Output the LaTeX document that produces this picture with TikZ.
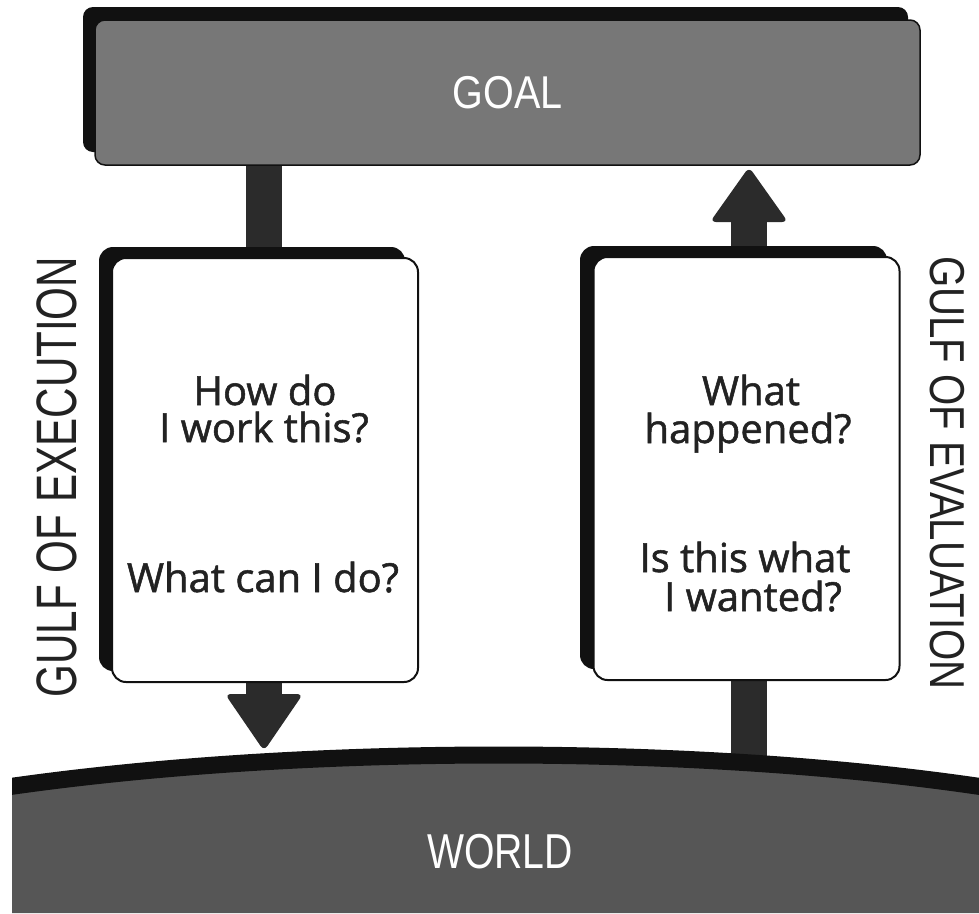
\documentclass[tikz,border=0pt]{standalone}
\usepackage{fontspec}
\setmainfont{Open Sans}
\newfontfamily\qfont{Open Sans}[FakeBold=1.3]
\newfontfamily\capsfont{Liberation Sans}
\usetikzlibrary{calc}
\definecolor{goalgray}{HTML}{777777}
\definecolor{worldgray}{HTML}{565656}
\definecolor{shaftc}{HTML}{2B2B2B}
\definecolor{inkc}{HTML}{222222}
\definecolor{shadowc}{HTML}{111111}
\begin{document}
\begin{tikzpicture}[x=1pt,y=-1pt,
  goalbox/.style={draw=shadowc, line width=1.5pt, fill=goalgray, rounded corners=10pt,
    minimum width=825pt, minimum height=145pt, inner sep=0pt, text=white},
  shadowfill/.style={fill=shadowc},
  qbox/.style={draw=shadowc, line width=2pt, fill=white, rounded corners=14pt,
    minimum width=306pt, minimum height=424pt, inner sep=0pt},
  qtext/.style={text=inkc, font=\qfont\fontsize{40}{40}\selectfont, anchor=base, inner sep=0pt},
  shaft/.style={draw=shaftc, line width=36pt},
  head/.style={fill=shaftc, rounded corners=6pt},
  bigcap/.style={text=white, inner sep=0pt},
  gulf/.style={text=inkc, inner sep=0pt}
]
\useasboundingbox (0,0) rectangle (979,913);
\fill[white] (0,0) rectangle (979,913);

% goal
\fill[shadowfill, rounded corners=10pt] (83,7) rectangle (908,152);
\node[goalbox] (goal) at (507.5,92.5)
  {\capsfont\fontsize{46}{46}\selectfont\scalebox{0.86}[1]{GOAL}};

% arrows
\coordinate (ltip) at (264,751);
\coordinate (rtip) at (749,167);
\coordinate (rbase) at (749,772);
\draw[shaft] (goal.south -| ltip) -- ($(ltip)+(0,-50)$);
\fill[head] (ltip) -- ++(-39,-57) -- ++(78,0) -- cycle;
\draw[shaft] (rbase) -- ($(rtip)+(0,48)$);
\fill[head] (rtip) -- ++(-39,55) -- ++(78,0) -- cycle;

% question boxes
\fill[shadowfill, rounded corners=14pt] (99,247) rectangle (405,671);
\node[qbox] (lbox) at (265,470) {};
\fill[shadowfill, rounded corners=14pt] (580,246) rectangle (887,669);
\node[qbox, minimum height=423pt] (rbox) at (746.5,468.5) {};

\node[qtext] (l1) at (265,405) {How do};
\node[qtext] (l2) at (264,442) {I work this?};
\node[qtext] (l3) at (263,592) {What can I do?};
\node[qtext] (r1) at (751,405) {What};
\node[qtext] (r2) at (748,443) {happened?};
\node[qtext] (r3) at (745,572) {Is this what};
\node[qtext] (r4) at (753,611) {I wanted?};

% gulf labels
\node[gulf, rotate=90] (ge) at (57,477)
  {\capsfont\fontsize{57}{57}\selectfont\scalebox{0.74}[1]{GULF OF EXECUTION}};
\node[gulf, rotate=-90] (gv) at (947,473)
  {\capsfont\fontsize{49}{49}\selectfont\scalebox{0.82}[1]{GULF OF EVALUATION}};

% world
\begin{scope}
\clip (12,0) rectangle (979,913);
\fill[worldgray] (0,788) .. controls (300,744) and (700,744) .. (990,788) -- (990,913) -- (0,913) -- cycle;
\draw[shadowc, line width=17pt] (0,788) .. controls (300,744) and (700,744) .. (990,788);
\end{scope}
\node[bigcap] (world) at (500,852)
  {\capsfont\fontsize{49}{49}\selectfont\scalebox{0.8}[1]{WORLD}};
\end{tikzpicture}
\end{document}
